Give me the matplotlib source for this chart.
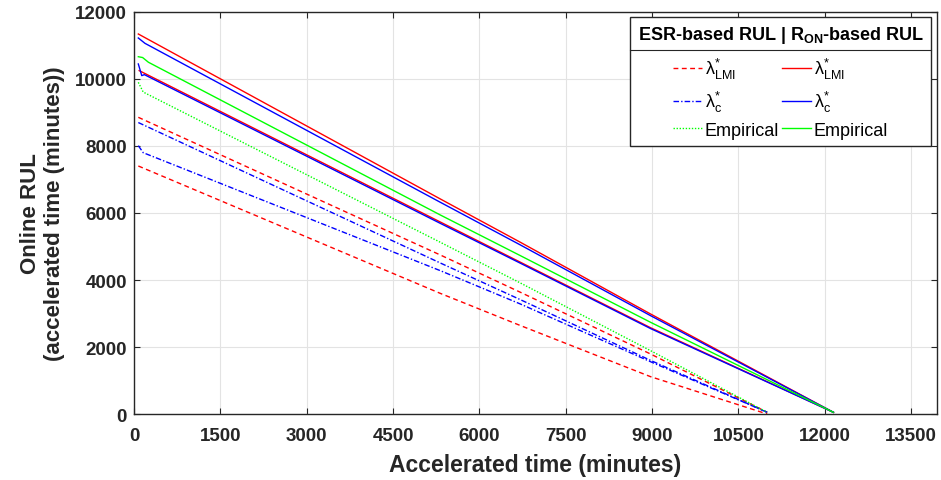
import matplotlib
matplotlib.use("Agg")
import matplotlib.pyplot as plt
from matplotlib.lines import Line2D

plt.rcParams["font.family"] = ["Liberation Sans", "DejaVu Sans"]
plt.rcParams["mathtext.fontset"] = "custom"
plt.rcParams["mathtext.rm"] = "Liberation Sans"
plt.rcParams["mathtext.it"] = "Liberation Sans:italic"
plt.rcParams["mathtext.bf"] = "Liberation Sans:bold"
plt.rcParams["mathtext.sf"] = "Liberation Sans"

# ESR-based RUL estimates (two runs per method)
esr_lmi_a_t = [75, 5322, 6713, 8974, 11000]
esr_lmi_a_rul = [8856, 4746, 3633, 1791, 50]
esr_lmi_b_t = [75, 5322, 6713, 8974, 11000]
esr_lmi_b_rul = [7403, 3600, 2640, 1114, 0]
esr_c_a_t = [75, 5322, 6713, 8974, 11000]
esr_c_a_rul = [8700, 4507, 3412, 1600, 50]
esr_c_b_t = [75, 160, 5322, 6713, 8974, 11000]
esr_c_b_rul = [8010, 7800, 4278, 3283, 1560, 50]
esr_emp_t = [75, 160, 5322, 6713, 8974, 11000]
esr_emp_rul = [9900, 9610, 5125, 3910, 1890, 50]

# R_ON-based RUL estimates
ron_lmi_a_t = [75, 5322, 6713, 8974, 12150]
ron_lmi_a_rul = [11343, 6418, 5125, 2985, 50]
ron_lmi_b_t = [90, 5322, 6713, 8974, 12150]
ron_lmi_b_rul = [10250, 5730, 4530, 2575, 50]
ron_c_a_t = [75, 190, 5322, 6713, 8974, 12150]
ron_c_a_rul = [11224, 11065, 6319, 5045, 2935, 50]
ron_c_b_t = [75, 135, 180, 5322, 6713, 8974, 12150]
ron_c_b_rul = [10448, 10100, 10130, 5690, 4500, 2550, 50]
ron_emp_t = [75, 150, 250, 5322, 6713, 8974, 12150]
ron_emp_rul = [10665, 10640, 10500, 5940, 4726, 2737, 50]

x_ticks = list(range(0, 13501, 1500))
y_ticks = list(range(0, 12001, 2000))

RED, BLUE, GREEN = "#ff0000", "#0000ff", "#00ff00"
lw = 1.0

fig = plt.figure(figsize=(9.41, 4.81), dpi=100)
ax = fig.add_axes([0.1424, 0.1372, 0.8534, 0.8358])

l1, = ax.plot(esr_lmi_a_t, esr_lmi_a_rul, color=RED, ls=(0, (3.5, 2.5)), lw=lw)
ax.plot(esr_lmi_b_t, esr_lmi_b_rul, color=RED, ls=(0, (3.5, 2.5)), lw=lw)
l2, = ax.plot(esr_c_a_t, esr_c_a_rul, color=BLUE, ls=(0, (4, 1.5, 1, 1.5)), lw=lw)
ax.plot(esr_c_b_t, esr_c_b_rul, color=BLUE, ls=(0, (4, 1.5, 1, 1.5)), lw=lw)
l3, = ax.plot(esr_emp_t, esr_emp_rul, color=GREEN, ls=(0, (1, 1.2)), lw=lw)

l4, = ax.plot(ron_lmi_a_t, ron_lmi_a_rul, color=RED, lw=lw)
ax.plot(ron_lmi_b_t, ron_lmi_b_rul, color=RED, lw=lw)
l5, = ax.plot(ron_c_a_t, ron_c_a_rul, color=BLUE, lw=lw)
ax.plot(ron_c_b_t, ron_c_b_rul, color=BLUE, lw=lw)
l6, = ax.plot(ron_emp_t, ron_emp_rul, color=GREEN, lw=lw)

ax.set_xlim(0, 13950)
ax.set_ylim(0, 12000)
ax.set_xticks(x_ticks)
ax.set_yticks(y_ticks)
ax.grid(True, color="#e3e3e3", lw=0.8)
ax.set_axisbelow(True)
ax.tick_params(direction="in", top=True, right=True, length=4, width=0.8,
               colors="#262626", labelsize=13.5)
ax.tick_params(axis="x", pad=9)
ax.tick_params(axis="y", pad=5)
for lab in ax.get_xticklabels() + ax.get_yticklabels():
    lab.set_fontweight("bold")
for sp in ax.spines.values():
    sp.set_color("#262626")
    sp.set_linewidth(1.0)

ax.set_xlabel("Accelerated time (minutes)", fontsize=16.5, fontweight="bold",
              color="#262626", labelpad=7)
ax.set_ylabel("Online RUL\n(accelerated time (minutes))", fontsize=16,
              fontweight="bold", color="#262626", labelpad=7)

lmi = r"$\mathrm{\lambda}^{*}_{\mathrm{LMI}}$"
lc = r"$\mathrm{\lambda}^{*}_{\mathrm{c}}$"
leg = ax.legend([l1, l2, l3, l4, l5, l6],
                [lmi, lc, "Empirical", lmi, lc, "Empirical"],
                ncol=2, loc="upper right", bbox_to_anchor=(0.9925, 0.9876),
                borderaxespad=0, fancybox=False, framealpha=1,
                edgecolor="#262626", fontsize=13,
                title=r"ESR-based RUL | R$_{\mathbf{ON}}$-based RUL",
                title_fontproperties={"weight": "bold", "size": 13},
                handlelength=1.6, handletextpad=0.15, columnspacing=0.15,
                labelspacing=0.42, borderpad=0.4)
leg.get_frame().set_linewidth(1.0)
leg._legend_box.align = "center"
leg._legend_box.sep = 8

# MATLAB-style separator line under the legend title
fig.canvas.draw()
inv = fig.transFigure.inverted()
fb = leg.get_frame().get_window_extent()
tb = leg.get_title().get_window_extent()
y_sep = tb.y0 - 5
(x0, ys), (x1, _) = inv.transform([(fb.x0, y_sep), (fb.x1, y_sep)])
fig.add_artist(Line2D([x0, x1], [ys, ys], transform=fig.transFigure,
                      color="#262626", lw=0.8))

fig.savefig("out.png", dpi=100)
